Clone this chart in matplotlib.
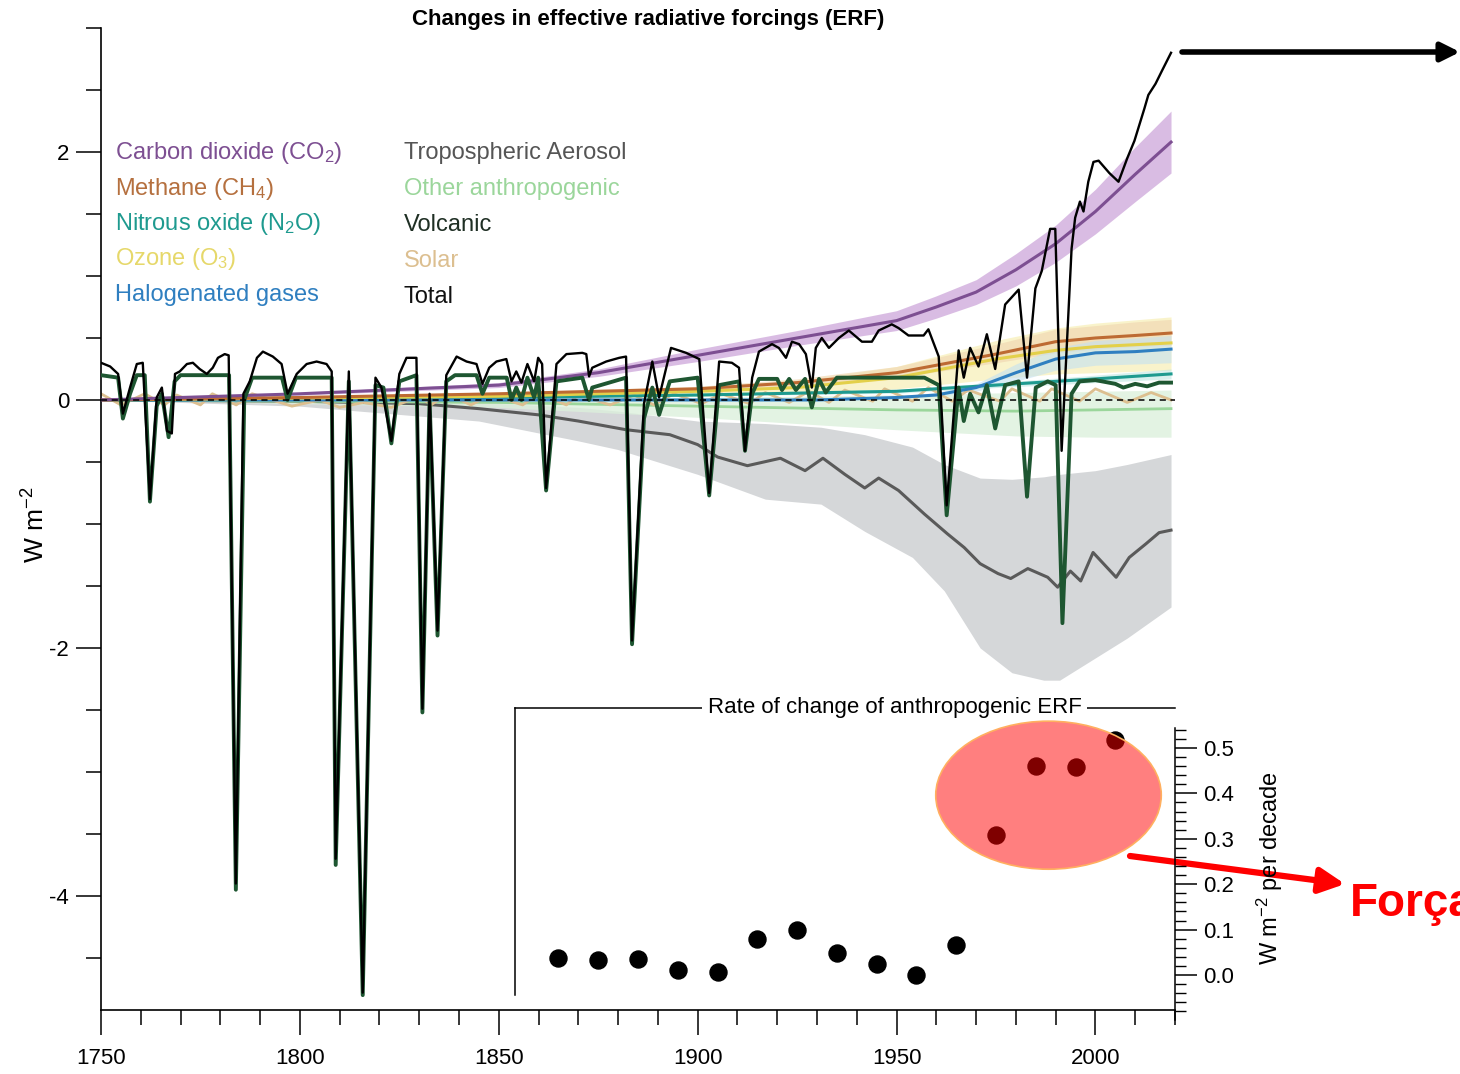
import numpy as np
import matplotlib.pyplot as plt
from matplotlib.patches import Ellipse
from matplotlib.ticker import FixedLocator, MultipleLocator

plt.rcParams['font.family'] = ['Liberation Sans', 'DejaVu Sans']
plt.rcParams['mathtext.fontset'] = 'custom'
plt.rcParams['mathtext.rm'] = 'Liberation Sans'
plt.rcParams['mathtext.it'] = 'Liberation Sans:italic'
plt.rcParams['axes.unicode_minus'] = False

# --- ERF time series (W m-2) ---
co2_years = [1750, 1800, 1850, 1875, 1900, 1925, 1950, 1960, 1970, 1980, 1990, 2000, 2010, 2019]
co2_vals = [0, 0.05, 0.12, 0.22, 0.36, 0.50, 0.64, 0.75, 0.87, 1.05, 1.26, 1.52, 1.82, 2.08]
co2_lo = [0, 0.04, 0.10, 0.19, 0.31, 0.44, 0.56, 0.66, 0.77, 0.92, 1.11, 1.34, 1.60, 1.83]
co2_hi = [0, 0.06, 0.14, 0.25, 0.41, 0.56, 0.72, 0.84, 0.97, 1.18, 1.41, 1.70, 2.04, 2.33]

ch4_years = [1750, 1800, 1850, 1900, 1925, 1950, 1975, 1990, 2000, 2010, 2019]
ch4_vals = [0, 0.02, 0.05, 0.09, 0.14, 0.22, 0.37, 0.47, 0.50, 0.52, 0.54]
ch4_lo = [0, 0.015, 0.04, 0.07, 0.11, 0.18, 0.30, 0.38, 0.41, 0.43, 0.44]
ch4_hi = [0, 0.025, 0.06, 0.11, 0.17, 0.27, 0.45, 0.57, 0.60, 0.63, 0.65]

n2o_years = [1750, 1800, 1850, 1900, 1950, 1975, 2000, 2019]
n2o_vals = [0, 0.005, 0.02, 0.04, 0.07, 0.12, 0.17, 0.21]
n2o_lo = [0, 0.004, 0.016, 0.032, 0.055, 0.10, 0.14, 0.17]
n2o_hi = [0, 0.006, 0.024, 0.048, 0.085, 0.14, 0.20, 0.25]

o3_years = [1750, 1850, 1900, 1925, 1950, 1975, 1990, 2000, 2019]
o3_vals = [0, 0.03, 0.07, 0.10, 0.18, 0.33, 0.40, 0.43, 0.46]
o3_lo = [0, 0.01, 0.03, 0.05, 0.09, 0.17, 0.21, 0.22, 0.24]
o3_hi = [0, 0.05, 0.10, 0.15, 0.27, 0.48, 0.58, 0.62, 0.67]

halo_years = [1750, 1930, 1950, 1960, 1970, 1980, 1990, 2000, 2010, 2019]
halo_vals = [0, 0, 0.02, 0.04, 0.10, 0.22, 0.33, 0.38, 0.39, 0.41]
halo_lo = [0, 0, 0.01, 0.03, 0.07, 0.15, 0.24, 0.28, 0.29, 0.30]
halo_hi = [0, 0, 0.03, 0.06, 0.13, 0.29, 0.42, 0.48, 0.50, 0.52]

other_years = [1750, 1850, 1900, 1950, 1980, 2000, 2019]
other_vals = [0, -0.02, -0.05, -0.08, -0.09, -0.08, -0.07]
other_lo = [0, -0.06, -0.14, -0.24, -0.29, -0.30, -0.30]
other_hi = [0, 0.01, 0.02, 0.04, 0.06, 0.07, 0.08]

aer_years = [1750, 1800, 1830, 1845, 1860, 1870, 1882, 1893, 1900, 1905, 1912.5, 1920.8,
             1927, 1931.5, 1937, 1942, 1945.5, 1950.5, 1957, 1962.8, 1967, 1971, 1975.5,
             1978.7, 1983, 1988, 1990.5, 1993.7, 1996.3, 1999.4, 2005.2, 2008.5, 2012.7,
             2016, 2019]
aer_vals = [0, -0.01, -0.03, -0.07, -0.12, -0.17, -0.24, -0.28, -0.36, -0.46, -0.53, -0.47,
            -0.57, -0.47, -0.60, -0.71, -0.63, -0.73, -0.92, -1.08, -1.19, -1.32, -1.40,
            -1.44, -1.36, -1.43, -1.51, -1.38, -1.46, -1.23, -1.43, -1.27, -1.16,
            -1.07, -1.05]
aer_band_years = [1750, 1800, 1845, 1870, 1880, 1900, 1917, 1931, 1942, 1954, 1962, 1971,
                  1979, 1987, 1991, 2000, 2008, 2019]
aer_hi = [0, -0.01, -0.02, -0.06, -0.09, -0.17, -0.19, -0.22, -0.28, -0.38, -0.52, -0.63,
          -0.64, -0.62, -0.60, -0.57, -0.52, -0.44]
aer_lo = [0, -0.05, -0.17, -0.33, -0.40, -0.60, -0.80, -0.84, -1.06, -1.27, -1.54, -2.00,
          -2.20, -2.26, -2.26, -2.08, -1.92, -1.67]

solar_years = [1750, 1755, 1761, 1766, 1769, 1775, 1778, 1784, 1788, 1798,
               1805, 1810, 1816, 1823, 1830, 1833, 1837, 1843, 1848, 1856,
               1860, 1867, 1870, 1878, 1884, 1889, 1894, 1901, 1906, 1913,
               1917, 1923, 1928, 1933, 1937, 1944, 1947, 1954, 1958, 1964,
               1968, 1976, 1979, 1986, 1989, 1996, 2000, 2008, 2014, 2019]
solar_vals = [0.05, -0.04, 0.05, -0.04, 0.04, -0.04, 0.05, -0.04, 0.05, -0.05,
              0.00, -0.06, -0.02, -0.06, 0.03, -0.04, 0.05, -0.04, 0.04, -0.04,
              0.05, -0.04, 0.04, -0.04, 0.04, -0.04, 0.05, -0.03, 0.05, -0.03,
              0.06, -0.02, 0.07, -0.02, 0.08, -0.01, 0.09, -0.01, 0.10, -0.01,
              0.08, -0.01, 0.09, -0.01, 0.09, -0.01, 0.09, -0.02, 0.06, 0.00]

volc_years = [1750, 1754.3, 1755.5, 1757.3, 1759, 1761, 1762.3, 1764, 1765.3, 1767, 1768.5,
              1770, 1782.2, 1783.9, 1786, 1788, 1795.5, 1796.9, 1799, 1808, 1809, 1812.3,
              1815.8, 1819, 1821, 1823, 1825, 1829.3, 1830.8, 1832.6, 1834.6, 1836.8, 1839,
              1844.4, 1845.9, 1847.6, 1852, 1853.2, 1854.4, 1855.7, 1857.2, 1858.9, 1859.9,
              1861.9, 1864.5, 1871, 1872.7, 1873.5, 1882, 1883.5, 1886.5, 1888.6, 1890.3,
              1893, 1900, 1902.9, 1905.4, 1910.4, 1911.9, 1913.7, 1915.4, 1920, 1921.2,
              1923, 1924.7, 1927, 1928.7, 1930.5, 1932.2, 1935, 1957, 1960.6, 1962.6,
              1965.6, 1966.9, 1968.5, 1970.6, 1972.7, 1974.8, 1977.3, 1980.7, 1982.8, 1985,
              1988, 1990, 1991.7, 1994, 1996, 2000, 2005, 2007, 2010, 2013, 2016, 2019]
volc_vals = [0.20, 0.18, -0.15, 0.05, 0.20, 0.20, -0.82, -0.05, 0.05, -0.30, 0.15,
             0.20, 0.20, -3.95, 0.00, 0.18, 0.18, 0.00, 0.18, 0.18, -3.75, 0.15,
             -4.80, 0.12, 0.10, -0.35, 0.15, 0.20, -2.52, 0.00, -1.90, 0.15, 0.20,
             0.20, 0.05, 0.18, 0.18, 0.00, 0.10, 0.00, 0.18, 0.02, 0.18,
             -0.73, 0.15, 0.18, 0.00, 0.10, 0.18, -1.97, -0.15, 0.10, -0.12,
             0.15, 0.18, -0.77, 0.12, 0.15, -0.41, 0.05, 0.17, 0.17, 0.08,
             0.17, 0.08, 0.17, -0.06, 0.17, 0.06, 0.18, 0.18, 0.12, -0.93,
             0.10, -0.17, 0.05, -0.10, 0.12, -0.23, 0.12, 0.15, -0.78, 0.10,
             0.15, 0.12, -1.80, 0.05, 0.15, 0.16, 0.13, 0.10, 0.13, 0.11, 0.14, 0.14]

total_years = [1750, 1752.3, 1754.3, 1755.5, 1757.3, 1759, 1760.5, 1762.3, 1764, 1765.3,
               1766.6, 1767.8, 1768.6, 1769.8, 1771.6, 1773.1, 1774.8, 1776.6, 1778.1,
               1779.4, 1781.1, 1782.1, 1783.9, 1785.8, 1787.4, 1789.2, 1790.7, 1793.2,
               1795.4, 1796.9, 1799.2, 1801.7, 1804.2, 1806.7, 1808, 1809, 1812.3, 1815.8,
               1819, 1820.5, 1823, 1825, 1826.8, 1829.3, 1830.8, 1832.6, 1834.6, 1836.8,
               1839.4, 1841.9, 1844.4, 1845.9, 1847.6, 1849.4, 1851.9, 1853.2, 1854.4,
               1855.7, 1857.2, 1858.9, 1859.9, 1860.9, 1861.9, 1864.5, 1867, 1871, 1872,
               1872.7, 1873.5, 1877, 1880.3, 1882, 1883.5, 1886.5, 1888.6, 1890.3, 1893.3,
               1897.1, 1900.4, 1902.9, 1905.4, 1908.6, 1910.4, 1911.9, 1913.7, 1915.4,
               1918.7, 1920.4, 1922.2, 1923.7, 1925.5, 1927.2, 1928.7, 1929.7, 1931.2,
               1933, 1935.5, 1938, 1941.3, 1943.8, 1945.5, 1948.8, 1950.5, 1953, 1956.8,
               1958, 1960.6, 1962.6, 1965.6, 1966.9, 1968.5, 1970.6, 1972.7, 1974.8,
               1977.3, 1979, 1980.7, 1982.8, 1984.9, 1986.5, 1988.6, 1989.9, 1991.5, 1994,
               1994.9, 1996.1, 1997, 1998.2, 1999.5, 2000.8, 2003.5, 2005.8, 2008, 2009.8,
               2012.3, 2013.3, 2015.1, 2016.8, 2019]
total_vals = [0.30, 0.27, 0.21, -0.11, 0.10, 0.29, 0.30, -0.80, 0.02, 0.10,
              -0.25, -0.27, 0.21, 0.23, 0.29, 0.30, 0.25, 0.21, 0.26,
              0.34, 0.37, 0.36, -3.90, 0.05, 0.15, 0.34, 0.39, 0.35,
              0.29, 0.05, 0.21, 0.29, 0.31, 0.29, 0.23, -3.70, 0.23, -4.78,
              0.18, 0.10, -0.33, 0.21, 0.34, 0.34, -2.49, 0.05, -1.86, 0.20,
              0.35, 0.31, 0.29, 0.13, 0.26, 0.31, 0.33, 0.15, 0.23,
              0.14, 0.29, 0.15, 0.34, 0.29, -0.71, 0.29, 0.37, 0.38, 0.37,
              0.19, 0.26, 0.31, 0.34, 0.35, -1.94, -0.03, 0.31, 0.02, 0.42,
              0.38, 0.33, -0.75, 0.31, 0.30, 0.26, -0.41, 0.18, 0.39,
              0.45, 0.42, 0.34, 0.47, 0.45, 0.37, 0.10, 0.42, 0.50,
              0.42, 0.50, 0.56, 0.47, 0.47, 0.56, 0.61, 0.58, 0.52, 0.52,
              0.57, 0.35, -0.85, 0.40, 0.18, 0.42, 0.27, 0.53, 0.25,
              0.77, 0.83, 0.89, 0.18, 0.90, 1.04, 1.38, 1.38, -0.41, 1.22,
              1.47, 1.60, 1.52, 1.76, 1.92, 1.93, 1.83, 1.76, 1.95, 2.09,
              2.35, 2.46, 2.55, 2.66, 2.80]

# --- decadal rate of change of anthropogenic ERF (W m-2 per decade) ---
rate_decades = [1865, 1875, 1885, 1895, 1905, 1915, 1925, 1935, 1945, 1955,
                1965, 1975, 1985, 1995, 2005]
rate_vals = [0.037, 0.033, 0.035, 0.011, 0.007, 0.079, 0.099, 0.048, 0.024, 0.0,
             0.066, 0.308, 0.460, 0.458, 0.518]

legend_left = ['Carbon dioxide (CO$_2$)', 'Methane (CH$_4$)', 'Nitrous oxide (N$_2$O)',
               'Ozone (O$_3$)', 'Halogenated gases']
legend_left_colors = ['#7d4f92', '#b5703f', '#1e9a8f', '#e6d86a', '#2f7fc0']
legend_right = ['Tropospheric Aerosol', 'Other anthropogenic', 'Volcanic', 'Solar', 'Total']
legend_right_colors = ['#555555', '#9bd69b', '#1f2f24', '#dcbf90', '#111111']

W, H = 1460, 1074


def fx(px):
    return px / W


def fy(py):
    return 1 - py / H


fig = plt.figure(figsize=(W / 100, H / 100), dpi=100)

# main axes
ax = fig.add_axes([fx(101), fy(1010), fx(1175) - fx(101), fy(28) - fy(1010)])
ax.set_xlim(1750, 2020)
ax.set_ylim(-4.92, 3.0)
ax.patch.set_alpha(0)

# uncertainty bands
ax.fill_between(aer_band_years, aer_lo, aer_hi, color='#d5d7d9', lw=0, zorder=1)
ax.fill_between(other_years, other_lo, other_hi, color='#dcf0dc', lw=0, alpha=0.8, zorder=1)
ax.fill_between(o3_years, o3_lo, o3_hi, color='#f7efb5', lw=0, alpha=0.7, zorder=1)
ax.fill_between(ch4_years, ch4_lo, ch4_hi, color='#f1d9b3', lw=0, alpha=0.7, zorder=1)
ax.fill_between(halo_years, halo_lo, halo_hi, color='#c3e1f2', lw=0, alpha=0.6, zorder=1)
ax.fill_between(n2o_years, n2o_lo, n2o_hi, color='#bfe6e1', lw=0, alpha=0.6, zorder=1)
ax.fill_between(co2_years, co2_lo, co2_hi, color='#d3b1de', lw=0, alpha=0.85, zorder=1)

# central estimates
ax.plot(aer_years, aer_vals, color='#5a5a5a', lw=2.2, zorder=2)
ax.plot(other_years, other_vals, color='#9bd69b', lw=2, zorder=2)
ax.plot(solar_years, solar_vals, color='#dcbf90', lw=2, zorder=2)
ax.plot(n2o_years, n2o_vals, color='#1e9a8f', lw=2.2, zorder=2)
ax.plot(halo_years, halo_vals, color='#2f7fc0', lw=2.2, zorder=2)
ax.plot(o3_years, o3_vals, color='#e3d04a', lw=2.2, zorder=2)
ax.plot(ch4_years, ch4_vals, color='#bd6a33', lw=2.2, zorder=2)
ax.plot(co2_years, co2_vals, color='#7d4f92', lw=2.2, zorder=3)
ax.plot(volc_years, volc_vals, color='#1e5631', lw=2.8, zorder=3)
ax.axhline(0, color='black', lw=1.1, ls=(0, (4, 3)), zorder=4)
ax.plot(total_years, total_vals, color='black', lw=1.7, zorder=5)

for side in ['top', 'right']:
    ax.spines[side].set_visible(False)
for side in ['left', 'bottom']:
    ax.spines[side].set_linewidth(1.2)

ax.yaxis.set_major_locator(FixedLocator([-4, -2, 0, 2]))
ax.yaxis.set_minor_locator(MultipleLocator(0.5))
ax.xaxis.set_major_locator(MultipleLocator(50))
ax.xaxis.set_minor_locator(MultipleLocator(10))
ax.tick_params(which='major', length=18, width=1.1, labelsize=16, pad=5)
ax.tick_params(which='minor', length=11, width=1.1)
ax.tick_params(axis='x', which='major', pad=9)

# inset: decadal rate of change, sharing the year scale
ax_in = fig.add_axes([fx(101), fy(1020), fx(1175) - fx(101), fy(708) - fy(1020)])
ax_in.set_xlim(1750, 2020)
ax_in.set_ylim(-0.099, 0.588)
ax_in.patch.set_alpha(0)
for side in ['top', 'left', 'bottom']:
    ax_in.spines[side].set_visible(False)
ax_in.spines['right'].set_bounds(-0.099, 0.544)
ax_in.spines['right'].set_linewidth(1.1)
ax_in.set_xticks([])
ax_in.yaxis.tick_right()
ax_in.yaxis.set_major_locator(FixedLocator([0, 0.1, 0.2, 0.3, 0.4, 0.5]))
ax_in.yaxis.set_minor_locator(FixedLocator(np.arange(-0.1, 0.545, 0.02)))
ax_in.yaxis.set_major_formatter(lambda v, pos: f'{v:.1f}')
ax_in.tick_params(axis='y', which='major', length=16, width=1.1, labelsize=16, pad=4)
ax_in.tick_params(axis='y', which='minor', length=8, width=1.0)

ax_in.plot([1854.2, 1854.2], [-0.044, 0.588], color='black', lw=1.1, clip_on=False)
ax_in.plot([1854.2, 2020], [0.588, 0.588], color='black', lw=1.1, clip_on=False)
ax_in.text(1949.5, 0.588, 'Rate of change of anthropogenic ERF', ha='center', va='center',
           fontsize=16, bbox=dict(fc='white', ec='none', pad=4))
ax_in.scatter(rate_decades, rate_vals, s=150, color='black', zorder=3, clip_on=False)
ax_in.add_patch(Ellipse((1988.2, 0.396), width=56.7, height=0.326, fc=(1, 0, 0, 0.5),
                        ec='#ffb060', lw=1.2, zorder=6, clip_on=False))

# titles and labels
fig.text(fx(648), fy(20), 'Changes in effective radiative forcings (ERF)', ha='center',
         va='center', fontsize=16, fontweight='bold')
fig.text(fx(36), fy(525), 'W m$^{-2}$', rotation=90, ha='center', va='center', fontsize=19)
fig.text(fx(1270), fy(868), 'W m$^{-2}$ per decade', rotation=90, ha='center', va='center',
         fontsize=17)

# legend written as coloured text
for i, (lab, col) in enumerate(zip(legend_left, legend_left_colors)):
    fig.text(fx(115), fy(153 + 35.5 * i), lab, color=col, fontsize=17, va='center')
for i, (lab, col) in enumerate(zip(legend_right, legend_right_colors)):
    fig.text(fx(404), fy(153 + 36 * i), lab, color=col, fontsize=17, va='center')

# arrows and note
ax.annotate('', xy=(1460, H - 52), xytext=(1182, H - 52), xycoords='figure pixels',
            textcoords='figure pixels', annotation_clip=False,
            arrowprops=dict(arrowstyle='-|>', color='black', lw=4, mutation_scale=28,
                            shrinkA=0, shrinkB=0))
ax.annotate('', xy=(1345, H - 884), xytext=(1130, H - 856), xycoords='figure pixels',
            textcoords='figure pixels', annotation_clip=False,
            arrowprops=dict(arrowstyle='-|>', color='red', lw=4.5, mutation_scale=38,
                            shrinkA=0, shrinkB=0))
fig.text(fx(1350), fy(904), 'Força', color='red', fontsize=33,
         fontweight='bold', va='center')

fig.savefig('out.png', dpi=100)
